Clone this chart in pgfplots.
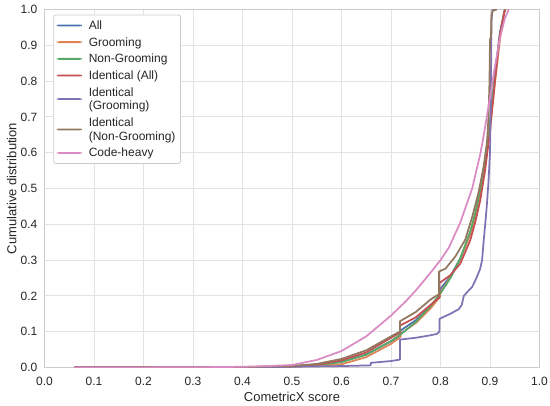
\documentclass[border=0pt]{standalone}
\usepackage{fontspec}
\setmainfont{Liberation Sans}
\usepackage{pgfplots}
\pgfplotsset{compat=1.18}
\definecolor{sbblue}{HTML}{4C72B0}
\definecolor{sborange}{HTML}{DD8452}
\definecolor{sbgreen}{HTML}{55A868}
\definecolor{sbred}{HTML}{C44E52}
\definecolor{sbpurple}{HTML}{8172B3}
\definecolor{sbbrown}{HTML}{937860}
\definecolor{sbpink}{HTML}{DA8BC3}
\definecolor{gridc}{HTML}{E3E3E3}
\definecolor{framec}{HTML}{CCCCCC}
\definecolor{txt}{HTML}{262626}
\begin{document}
\begin{tikzpicture}
\useasboundingbox (0,0) rectangle (550pt,406pt);
\begin{axis}[
  at={(44.5pt,38.5pt)}, anchor=south west,
  scale only axis, width=495pt, height=358pt,
  xmin=0, xmax=1, ymin=0, ymax=1,
  xtick={0,0.1,0.2,0.3,0.4,0.5,0.6,0.7,0.8,0.9,1},
  ytick={0,0.1,0.2,0.3,0.4,0.5,0.6,0.7,0.8,0.9,1},
  xticklabels={0.0,0.1,0.2,0.3,0.4,0.5,0.6,0.7,0.8,0.9,1.0},
  yticklabels={0.0,0.1,0.2,0.3,0.4,0.5,0.6,0.7,0.8,0.9,1.0},
  grid=major, grid style={draw=gridc, line width=0.8pt},
  axis line style={draw=framec, line width=1pt},
  major tick length=0pt, tick style={draw=none},
  ticklabel style={font=\fontsize{12}{14}\selectfont, text=txt, inner sep=0pt},
  xticklabel style={anchor=north, yshift=-9pt},
  yticklabel style={anchor=east, xshift=-7pt},
  xlabel={CometricX score}, ylabel={Cumulative distribution},
  label style={font=\fontsize{13}{15}\selectfont, text=txt},
  xlabel style={at={(axis description cs:0.5,-0.083)}, anchor=center},
  ylabel style={at={(axis description cs:-0.0664,0.5)}, anchor=center},
  every axis plot/.append style={line width=1.75pt, line join=round},
  legend cell align=left,
  legend image code/.code={\path[#1, fill, draw=none] (0pt,-0.9pt) rectangle (25pt,0.9pt);},
  legend style={at={(0.018,0.986)}, anchor=north west, draw=framec, line width=0.8pt,
    rounded corners=2pt, fill=white,
    font=\fontsize{12}{13.6}\selectfont\color{txt}, row sep=1.7pt,
    inner xsep=3pt, inner ysep=3pt,
    /tikz/every odd column/.append style={column sep=5pt},
    cells={anchor=west, align=left}},
]
% All
\addplot[sbblue] coordinates {(0.06,0) (0.3,0.0005) (0.4,0.001) (0.45,0.002) (0.5,0.004) (0.55,0.008) (0.6,0.016) (0.65,0.036) (0.7,0.073) (0.719,0.09) (0.719,0.103) (0.75,0.132) (0.78,0.17) (0.799,0.198) (0.799,0.218) (0.82,0.255) (0.84,0.305) (0.86,0.375) (0.87,0.425) (0.88,0.49) (0.89,0.575) (0.9,0.68) (0.91,0.82) (0.92,0.935) (0.93,1.0)};
\addlegendentry{\strut All}
% Grooming
\addplot[sborange] coordinates {(0.06,0) (0.4,0.0005) (0.5,0.002) (0.55,0.005) (0.6,0.009) (0.65,0.029) (0.7,0.066) (0.719,0.085) (0.719,0.094) (0.75,0.124) (0.78,0.165) (0.799,0.198) (0.799,0.208) (0.82,0.252) (0.84,0.302) (0.86,0.372) (0.87,0.42) (0.88,0.48) (0.89,0.565) (0.9,0.67) (0.91,0.795) (0.92,0.915) (0.928,0.99) (0.932,1.0)};
\addlegendentry{\strut Grooming}
% Non-Grooming
\addplot[sbgreen] coordinates {(0.06,0) (0.4,0.001) (0.5,0.003) (0.55,0.007) (0.6,0.015) (0.65,0.036) (0.7,0.074) (0.72,0.093) (0.75,0.127) (0.78,0.172) (0.8,0.207) (0.82,0.25) (0.84,0.305) (0.86,0.38) (0.87,0.43) (0.88,0.495) (0.89,0.58) (0.9,0.685) (0.91,0.815) (0.92,0.93) (0.93,1.0)};
\addlegendentry{\strut Non-Grooming}
% Identical (All)
\addplot[sbred] coordinates {(0.06,0) (0.4,0.001) (0.5,0.003) (0.55,0.008) (0.6,0.02) (0.65,0.042) (0.7,0.083) (0.718,0.097) (0.718,0.117) (0.75,0.14) (0.78,0.175) (0.798,0.196) (0.798,0.236) (0.82,0.258) (0.84,0.29) (0.86,0.355) (0.87,0.405) (0.88,0.465) (0.89,0.55) (0.9,0.66) (0.91,0.8) (0.92,0.93) (0.93,1.0)};
\addlegendentry{\strut Identical (All)}
% Identical (Grooming)
\addplot[sbpurple] coordinates {(0.06,0) (0.4,0.0005) (0.5,0.002) (0.6,0.004) (0.659,0.006) (0.659,0.013) (0.7,0.018) (0.718,0.022) (0.718,0.078) (0.75,0.083) (0.78,0.09) (0.793,0.094) (0.798,0.101) (0.798,0.136) (0.82,0.15) (0.837,0.163) (0.843,0.175) (0.847,0.2) (0.857,0.215) (0.864,0.225) (0.871,0.245) (0.88,0.275) (0.884,0.3) (0.887,0.35) (0.891,0.41) (0.894,0.46) (0.897,0.52) (0.9,0.6) (0.901,0.68) (0.902,0.8) (0.903,0.97) (0.905,1.0) (0.912,1.0)};
\addlegendentry{\strut Identical\\\strut (Grooming)}
% Identical (Non-Grooming)
\addplot[sbbrown] coordinates {(0.06,0) (0.4,0.001) (0.5,0.004) (0.55,0.01) (0.6,0.024) (0.65,0.048) (0.7,0.087) (0.718,0.1) (0.718,0.129) (0.75,0.155) (0.78,0.19) (0.797,0.205) (0.797,0.268) (0.81,0.276) (0.83,0.31) (0.85,0.357) (0.864,0.42) (0.877,0.49) (0.887,0.56) (0.894,0.63) (0.897,0.7) (0.899,0.8) (0.9,0.915) (0.902,0.925) (0.903,0.985) (0.906,0.997) (0.914,1.0)};
\addlegendentry{\strut Identical\\\strut (Non-Grooming)}
% Code-heavy
\addplot[sbpink] coordinates {(0.06,0) (0.3,0.0005) (0.4,0.002) (0.45,0.004) (0.5,0.007) (0.55,0.021) (0.6,0.046) (0.65,0.087) (0.7,0.145) (0.73,0.185) (0.75,0.215) (0.78,0.265) (0.8,0.3) (0.817,0.335) (0.84,0.405) (0.864,0.5) (0.881,0.6) (0.89,0.67) (0.9,0.755) (0.91,0.84) (0.92,0.92) (0.93,0.975) (0.938,1.0)};
\addlegendentry{\strut Code-heavy}
\end{axis}
\end{tikzpicture}
\end{document}
